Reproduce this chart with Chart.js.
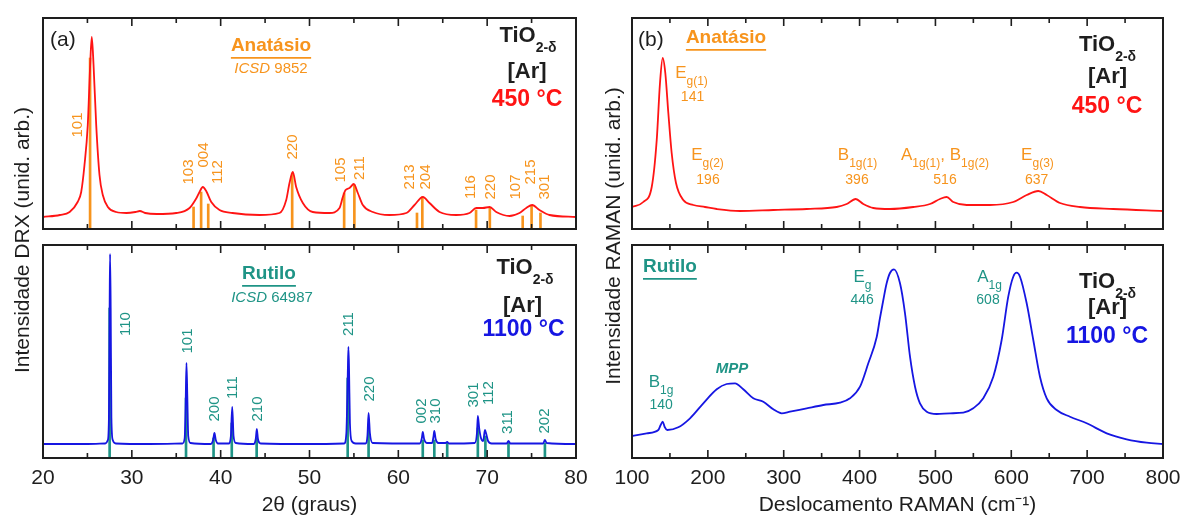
<!DOCTYPE html>
<html>
<head>
<meta charset="utf-8">
<script src="https://cdn.jsdelivr.net/npm/chart.js@4.4.0/dist/chart.umd.min.js"></script>
<style>
  body  { margin: 0; background: #fff; }
  #wrap { position: relative; width: 1182px; height: 516px; }
  #wrap canvas { position: absolute; left: 0; top: 0; }
</style>
</head>
<body>
<div id="wrap">
  <canvas id="drx-anatase" width="1182" height="516"></canvas>
  <canvas id="drx-rutilo"  width="1182" height="516"></canvas>
  <canvas id="raman-anatase" width="1182" height="516"></canvas>
  <canvas id="raman-rutilo"  width="1182" height="516"></canvas>
</div>
<script>
// ── Data ───────────────────────────────────────────────────────
// intensities are arbitrary units (unid. arb.)

// DRX, anatásio 450 °C : [2θ, I]
const drxAnatase = [
  [20, 12], [21.9, 14], [23.0, 17], [23.9, 27], [24.3, 37], [24.67, 64], [25.04, 104],
  [25.31, 164], [25.49, 192], [25.69, 164], [25.99, 104], [26.36, 54], [26.73, 34],
  [27.3, 22], [28.24, 17], [29.4, 16], [30.4, 17], [30.9, 18], [31.5, 16], [32.8, 15],
  [35.0, 16], [36.5, 21], [37.28, 31], [37.62, 37], [37.99, 42], [38.37, 38], [38.94, 27],
  [39.87, 19], [41.33, 16], [44.37, 14], [46.62, 16], [47.38, 29], [47.75, 46], [48.12, 57],
  [48.5, 42], [49.25, 26], [50.37, 17], [52.25, 16], [53.38, 21], [53.75, 32], [54.06, 39],
  [54.51, 41], [54.99, 45], [55.44, 36], [56.0, 24], [57.13, 17], [59.0, 14], [60.9, 16],
  [61.82, 24], [62.76, 32], [63.51, 26], [64.64, 17], [66.52, 14], [68.01, 16], [68.77, 21],
  [69.51, 21], [70.27, 22], [71.02, 17], [72.52, 13], [73.64, 16], [74.4, 21], [75.07, 24],
  [75.89, 19], [77.02, 14], [80, 12]
];
// ICSD 9852 reference lines
const anatase2t  = [25.3, 36.95, 37.8, 38.6, 48.05, 53.9, 55.05, 62.1, 62.7, 68.75, 70.3, 74.0, 75.0, 76.0];
const anataseRef = [171, 22, 37, 25, 56, 36, 44, 16, 32, 19, 21, 13, 23, 16];
const anataseHkl = ['101', '103', '004', '112', '220', '105', '211', '213', '204', '116', '220', '107', '215', '301'];

// DRX, rutilo 1100 °C : [2θ, I]
const drxRutilo = [
  [20, 14], [25, 14], [27.0, 14.5], [27.3, 18], [27.42, 40], [27.5, 150], [27.55, 204],
  [27.62, 150], [27.7, 40], [27.85, 18], [28.2, 14.5], [32, 14], [35.7, 14.5], [35.95, 20],
  [36.05, 50], [36.15, 95], [36.25, 60], [36.35, 22], [36.6, 15], [38.9, 14], [39.15, 18],
  [39.3, 25], [39.45, 18], [39.7, 14.5], [40.9, 14.5], [41.15, 22], [41.3, 51], [41.45, 22],
  [41.7, 15], [43.7, 14], [43.95, 19], [44.07, 29], [44.2, 19], [44.5, 14.5], [50, 14],
  [53.9, 14.5], [54.15, 25], [54.3, 80], [54.38, 111], [54.45, 90], [54.55, 35], [54.75, 17],
  [55.2, 14.5], [56.3, 14.5], [56.52, 22], [56.65, 45], [56.8, 25], [57.1, 15], [62.4, 14.5],
  [62.65, 20], [62.75, 26], [62.9, 19], [63.2, 15], [63.8, 15], [63.95, 21], [64.05, 27],
  [64.2, 19], [64.5, 15], [65.3, 15], [65.5, 16], [65.7, 14.5], [68.6, 15], [68.85, 25],
  [68.95, 42], [69.1, 30], [69.3, 20], [69.55, 17], [69.75, 28], [69.9, 24], [70.1, 17],
  [70.5, 14.5], [72.2, 14.5], [72.4, 17], [72.6, 14.5], [76.3, 14.5], [76.5, 18], [76.7, 15],
  [80, 14]
];
// ICSD 64987 reference lines
const rutilo2t  = [27.5, 36.1, 39.2, 41.25, 44.05, 54.3, 56.65, 62.75, 64.05, 65.5, 68.95, 69.8, 72.4, 76.5];
const rutiloRef = [150, 60, 20, 35, 20, 80, 30, 18, 18, 15, 30, 22, 15, 15];
const rutiloHkl = ['110', '101', '200', '111', '210', '211', '220', '002', '310', '301', '112', '311', '202'];

// RAMAN, anatásio 450 °C : [cm-1, I]
const ramanAnatase = [
  [100, 22], [114.9, 27], [126, 42], [132.6, 89], [136.9, 146], [140.5, 171], [143.9, 156],
  [147.9, 116], [152.3, 76], [158, 46], [167.6, 29], [180.8, 24], [196.2, 22], [211.7, 20],
  [242.4, 18], [286.3, 19], [330.3, 20], [369.8, 22], [383, 25], [394.9, 30], [404.9, 25],
  [418.1, 21], [440.1, 20], [470.8, 22], [492.8, 25], [506, 30], [514.8, 32], [523.5, 27],
  [541.2, 24], [571.9, 24], [602.6, 27], [620.3, 34], [635.6, 38], [646.7, 34], [664.2, 26],
  [690.6, 22], [734.5, 20], [800, 18]
];

// RAMAN, rutilo 1100 °C : [cm-1, I]
const ramanRutilo = [
  [100, 22], [119.4, 24.7], [134.7, 28], [137.8, 33], [140.5, 36.3], [143.1, 31], [146.5, 28],
  [161, 30.7], [176.5, 39.7], [194, 54.7], [211.7, 68.7], [224.8, 74], [235.8, 74.7],
  [246.7, 68.7], [259.9, 59.7], [273.1, 56.3], [286.3, 48.7], [297.3, 44.7], [308.3, 46.3],
  [330.3, 49.7], [352.2, 53], [374.2, 55.3], [387.4, 59.7], [400.6, 71.3], [411.5, 94.7],
  [422.6, 121], [426.9, 140], [431.3, 158], [435.7, 174.7], [440.1, 185], [445.4, 188.7],
  [453.3, 174.7], [459.9, 144.7], [466.5, 101.3], [473.1, 71.3], [479.6, 54.7], [488.5, 46.3],
  [501.7, 44], [519.2, 44.7], [536.7, 45.3], [549.9, 49.7], [563.1, 59.7], [576.3, 81.3],
  [587.3, 118], [596, 161.3], [602.6, 181.3], [607.1, 185.3], [611.5, 181.3], [620.3, 154.7],
  [629, 118], [637.8, 81.3], [646.7, 59.7], [659.8, 48], [677.4, 41.3], [699.4, 34.7],
  [725.8, 24.7], [752.1, 18.7], [778.5, 15.3], [800, 14]
];

// ── Look ───────────────────────────────────────────────────────
const FAMILY = '"Liberation Sans", Arial, Helvetica, sans-serif';
const INK    = '#1e1e1e';
const ORANGE = '#F7941D';
const TEAL   = '#1F9486';
const RED    = '#FF1414';
const BLUE   = '#1616E2';

// where the hkl labels sit, in data units
const anataseHklAt = [[23.88, 104], [36.41, 57], [38.07, 74], [39.68, 57], [48.12, 82], [53.57, 59],
  [55.63, 61], [61.26, 52], [63.14, 52], [68.2, 42], [70.45, 42], [73.27, 42], [74.96, 57], [76.46, 42]];
const rutiloHklAt = [[29.29, 134], [36.3, 117], [39.31, 49], [41.37, 70.5], [44.18, 49], [54.39, 134],
  [56.76, 69], [62.69, 47], [64.26, 47], [68.5, 63], [70.19, 65], [72.33, 36], [76.46, 37]];

const pts  = arr => arr.map(([x, y]) => ({ x, y }));
const bars = (xs, ys) => xs.map((x, i) => ({ x, y: ys[i] }));
const sub  = (t, s = 12, dy = 9, b = 0) => ({ t, s, dy, b });

function fontOf(r, size) {
  return `${r.i ? 'italic ' : ''}${r.b ? 'bold ' : ''}${r.s || size}px ${FAMILY}`;
}

// ── Plugins ────────────────────────────────────────────────────

function framePlugin(major, minor) {
  return {
    id: 'frame',
    afterDraw(chart) {
      const { ctx, chartArea: a, scales: { x } } = chart;
      ctx.save();
      ctx.strokeStyle = INK;
      ctx.lineWidth   = 1.6;
      const n = Math.round((x.max - x.min) / minor);
      for (let k = 1; k < n; k++) {
        const len = (k * minor) % major === 0 ? 8 : 5;
        const px  = x.getPixelForValue(x.min + k * minor);
        ctx.beginPath();
        ctx.moveTo(px, a.top);    ctx.lineTo(px, a.top + len);
        ctx.moveTo(px, a.bottom); ctx.lineTo(px, a.bottom - len);
        ctx.stroke();
      }
      ctx.lineWidth = 2;
      ctx.strokeRect(a.left, a.top, a.width, a.height);
      ctx.restore();
    }
  };
}

// text notes; kept out of chart options so the option resolver leaves them alone
function notesPlugin(items) {
  return {
    id: 'notes',
    afterDraw(chart) {
      const { ctx, chartArea: a, scales: { x, y } } = chart;
      ctx.save();
      ctx.textBaseline = 'middle';
      ctx.textAlign    = 'left';
      for (const n of items) {
        let px = n.x, py = n.y;
        if (n.at === 'data') { px = x.getPixelForValue(n.x); py = y.getPixelForValue(n.y); }
        if (n.at === 'box')  { px = a.left + n.x; py = a.top + n.y; }
        const runs = n.runs.map(r => typeof r === 'string' ? { t: r } : { ...r });
        const size = n.size || 15;
        ctx.save();
        ctx.translate(px, py);
        if (n.rot) ctx.rotate(n.rot * Math.PI / 180);
        ctx.fillStyle = n.color || INK;
        let w = 0;
        runs.forEach(r => {
          ctx.font = fontOf({ ...r, b: r.b ?? n.b, i: r.i ?? n.i }, size);
          r.w = ctx.measureText(r.t).width;
          w += r.w;
        });
        let cx = n.align === 'left' ? 0 : n.align === 'right' ? -w : -w / 2;
        const x0 = cx;
        runs.forEach(r => {
          ctx.font = fontOf({ ...r, b: r.b ?? n.b, i: r.i ?? n.i }, size);
          ctx.fillText(r.t, cx, r.dy || 0);
          cx += r.w;
        });
        if (n.under) {
          ctx.strokeStyle = ctx.fillStyle;
          ctx.lineWidth   = 1.8;
          ctx.beginPath();
          ctx.moveTo(x0, size * 0.62);
          ctx.lineTo(cx, size * 0.62);
          ctx.stroke();
        }
        ctx.restore();
      }
      ctx.restore();
    }
  };
}

// ── Panels ─────────────────────────────────────────────────────

function makePanel(id, cfg) {
  const bottom = !!cfg.xTitle;
  const datasets = [{
    data: pts(cfg.curve),
    borderColor: cfg.lineColor,
    borderWidth: 1.8,
    pointRadius: 0,
    cubicInterpolationMode: 'monotone',
    order: 0
  }];
  if (cfg.refs) {
    datasets.push({
      type: 'bar',
      data: cfg.refs,
      backgroundColor: cfg.refColor,
      barThickness: 2,
      order: 1
    });
  }
  const x = {
    type: 'linear',
    min: cfg.xMin, max: cfg.xMax,
    offset: false,
    display: bottom,
    grid:   { display: false, drawTicks: false },
    border: { display: false },
    ticks: {
      stepSize: cfg.major,
      autoSkip: false,
      maxRotation: 0,
      padding: 8,
      color: INK,
      font: { size: 21, family: FAMILY }
    },
    title: {
      display: bottom,
      text: cfg.xTitle || '',
      color: INK,
      padding: 0,
      font: { size: 21, family: FAMILY, lineHeight: 1 }
    }
  };
  // fixed axis band, and no extra room claimed for the end labels
  if (bottom) {
    x.afterFit = s => {
      s.height = 58;
      s.paddingLeft = 0;
      s.paddingRight = 0;
    };
  }

  return new Chart(document.getElementById(id), {
    type: 'line',
    data: { datasets },
    options: {
      responsive: false,
      animation: false,
      devicePixelRatio: 1,
      events: [],
      layout: { padding: cfg.pad },
      plugins: {
        legend:  { display: false },
        tooltip: { enabled: false }
      },
      scales: {
        x,
        y: { min: 0, max: cfg.yMax, display: false }
      }
    },
    plugins: [framePlugin(cfg.major, cfg.minor), notesPlugin(cfg.notes)]
  });
}

const hklNotes = (labels, at, color) => labels.map((t, i) => ({
  at: 'data', x: at[i][0], y: at[i][1], rot: -90, size: 15, color, runs: [t]
}));

const tioBlock = (dx, dy) => ({ at: 'box', x: dx, y: dy, size: 22, b: 1, runs: ['TiO', sub('2-δ', 14, 12, 1)] });

// (a) DRX – anatásio
makePanel('drx-anatase', {
  curve: drxAnatase, lineColor: RED,
  refs: bars(anatase2t, anataseRef), refColor: ORANGE,
  xMin: 20, xMax: 80, major: 10, minor: 5, yMax: 211,
  pad: { left: 43, right: 606, top: 18, bottom: 287 },
  notes: [
    { at: 'box', x: 7, y: 22, size: 21, align: 'left', runs: ['(a)'] },
    { at: 'box', x: 228, y: 28, size: 19, b: 1, under: true, color: ORANGE, runs: ['Anatásio'] },
    { at: 'box', x: 228, y: 51, size: 15, color: ORANGE, runs: [{ t: 'ICSD', i: 1 }, ' 9852'] },
    tioBlock(485, 18),
    { at: 'box', x: 484, y: 54, size: 22, b: 1, runs: ['[Ar]'] },
    { at: 'box', x: 484, y: 82, size: 23, b: 1, color: RED, runs: ['450 °C'] },
    ...hklNotes(anataseHkl, anataseHklAt, ORANGE)
  ]
});

// (a) DRX – rutilo
makePanel('drx-rutilo', {
  curve: drxRutilo, lineColor: BLUE,
  refs: bars(rutilo2t, rutiloRef), refColor: TEAL,
  xMin: 20, xMax: 80, major: 10, minor: 5, yMax: 213,
  xTitle: '2θ (graus)',
  pad: { left: 43, right: 606, top: 245, bottom: 0 },
  notes: [
    { at: 'box', x: 226, y: 29, size: 19, b: 1, under: true, color: TEAL, runs: ['Rutilo'] },
    { at: 'box', x: 229, y: 53, size: 15, color: TEAL, runs: [{ t: 'ICSD', i: 1 }, ' 64987'] },
    tioBlock(482, 23),
    { at: 'box', x: 479.5, y: 61, size: 22, b: 1, runs: ['[Ar]'] },
    { at: 'box', x: 480.5, y: 85, size: 23, b: 1, color: BLUE, runs: ['1100 °C'] },
    ...hklNotes(rutiloHkl, rutiloHklAt, TEAL),
    { at: 'page', x: 23, y: 240, rot: -90, size: 21, runs: ['Intensidade DRX (unid. arb.)'] }
  ]
});

// (b) RAMAN – anatásio
makePanel('raman-anatase', {
  curve: ramanAnatase, lineColor: RED,
  xMin: 100, xMax: 800, major: 100, minor: 50, yMax: 211,
  pad: { left: 632, right: 19, top: 18, bottom: 287 },
  notes: [
    { at: 'box', x: 6, y: 22, size: 21, align: 'left', runs: ['(b)'] },
    { at: 'box', x: 94, y: 20, size: 19, b: 1, under: true, color: ORANGE, runs: ['Anatásio'] },
    tioBlock(475.5, 27),
    { at: 'box', x: 475.5, y: 59, size: 22, b: 1, runs: ['[Ar]'] },
    { at: 'box', x: 475, y: 89, size: 23, b: 1, color: RED, runs: ['450 °C'] },
    { at: 'data', x: 178.4, y: 156, size: 17, color: ORANGE, runs: ['E', sub('g(1)')] },
    { at: 'data', x: 179.8, y: 132, size: 14, color: ORANGE, runs: ['141'] },
    { at: 'data', x: 199.5, y: 74, size: 17, color: ORANGE, runs: ['E', sub('g(2)')] },
    { at: 'data', x: 200.2, y: 49, size: 14, color: ORANGE, runs: ['196'] },
    { at: 'data', x: 397.3, y: 74, size: 17, color: ORANGE, runs: ['B', sub('1g(1)')] },
    { at: 'data', x: 396.6, y: 49, size: 14, color: ORANGE, runs: ['396'] },
    { at: 'data', x: 512.6, y: 74, size: 17, color: ORANGE, runs: ['A', sub('1g(1)'), ', B', sub('1g(2)')] },
    { at: 'data', x: 512.6, y: 49, size: 14, color: ORANGE, runs: ['516'] },
    { at: 'data', x: 634.5, y: 74, size: 17, color: ORANGE, runs: ['E', sub('g(3)')] },
    { at: 'data', x: 633.5, y: 49, size: 14, color: ORANGE, runs: ['637'] }
  ]
});

// (b) RAMAN – rutilo
makePanel('raman-rutilo', {
  curve: ramanRutilo, lineColor: BLUE,
  xMin: 100, xMax: 800, major: 100, minor: 50, yMax: 213,
  xTitle: 'Deslocamento RAMAN (cm⁻¹)',
  pad: { left: 632, right: 19, top: 245, bottom: 0 },
  notes: [
    { at: 'box', x: 11, y: 22, size: 19, b: 1, under: true, align: 'left', color: TEAL, runs: ['Rutilo'] },
    tioBlock(475.5, 37),
    { at: 'box', x: 475.5, y: 63, size: 22, b: 1, runs: ['[Ar]'] },
    { at: 'box', x: 475, y: 92, size: 23, b: 1, color: BLUE, runs: ['1100 °C'] },
    { at: 'data', x: 138.2, y: 76, size: 17, color: TEAL, runs: ['B', sub('1g')] },
    { at: 'data', x: 138.5, y: 53, size: 14, color: TEAL, runs: ['140'] },
    { at: 'data', x: 231.8, y: 89, size: 15, b: 1, i: 1, color: TEAL, runs: ['MPP'] },
    { at: 'data', x: 403.9, y: 181, size: 17, color: TEAL, runs: ['E', sub('g')] },
    { at: 'data', x: 403.3, y: 158, size: 14, color: TEAL, runs: ['446'] },
    { at: 'data', x: 571.3, y: 181, size: 17, color: TEAL, runs: ['A', sub('1g')] },
    { at: 'data', x: 569.3, y: 158, size: 14, color: TEAL, runs: ['608'] },
    { at: 'page', x: 614, y: 236, rot: -90, size: 21, runs: ['Intensidade RAMAN (unid. arb.)'] }
  ]
});
</script>
</body>
</html>
